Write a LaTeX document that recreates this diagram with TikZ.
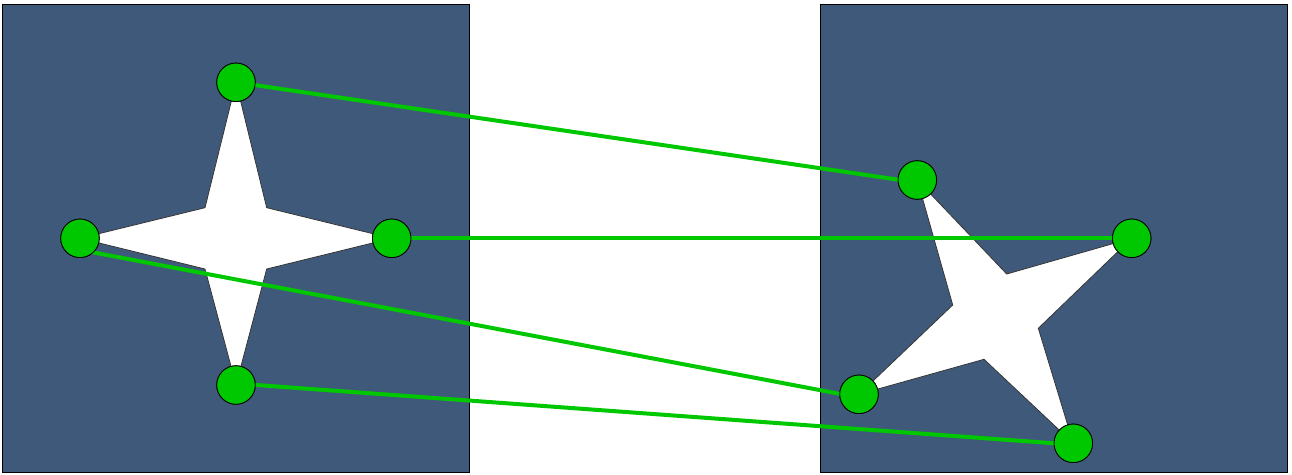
\documentclass[tikz,border=0pt]{standalone}
\definecolor{panel}{RGB}{63,89,123}
\definecolor{dot}{RGB}{0,200,0}
\definecolor{link}{RGB}{0,200,0}
\begin{document}
\begin{tikzpicture}[x=1pt,y=-1pt,
  panelbox/.style={draw=black,line width=0.8pt,fill=panel},
  starshape/.style={draw=black!80,line width=0.8pt,fill=white},
  dotnode/.style={circle,draw=black,line width=0.8pt,fill=dot,minimum size=38.5pt,inner sep=0pt},
  linkline/.style={draw=link,line width=4pt}]
\useasboundingbox (0,0) rectangle (1292,474);
\fill[white] (0,0) rectangle (1292,474);
% panels
\path[panelbox] (2.5,4.5) rectangle (469.5,472.5);
\path[panelbox] (820.5,4.5) rectangle (1287.5,472.5);
% coordinates
\coordinate (lt) at (236,82.3);
\coordinate (ll) at (80,238.3);
\coordinate (lr) at (391.7,238.3);
\coordinate (lb) at (236,385);
\coordinate (rt) at (917.3,180);
\coordinate (rr) at (1131.7,238.3);
\coordinate (rl) at (859,394.3);
\coordinate (rb) at (1073.3,443.3);
% stars
\path[starshape] (lt) -- (266.7,207.7) -- (lr) -- (266.7,269) -- (lb) -- (205,269) -- (ll) -- (205,207.7) -- cycle;
\path[starshape] (rt) -- (1006.7,274) -- (rr) -- (1038.3,328.3) -- (rb) -- (984,359.3) -- (rl) -- (952.7,305) -- cycle;
% dots (placed first, drawn again on top of the links)
\path (lt) node[dotnode] (a1) {} (ll) node[dotnode] (a2) {}
      (lr) node[dotnode] (a3) {} (lb) node[dotnode] (a4) {}
      (rt) node[dotnode] (b1) {} (rr) node[dotnode] (b2) {}
      (rl) node[dotnode] (b3) {} (rb) node[dotnode] (b4) {};
% links
\draw[linkline] (a1.center) -- ([yshift=-2.5pt]b1.center);
\draw[linkline] (a3.center) -- (b2.center);
\draw[linkline] ([yshift=-11.6pt]a2.center) -- ([yshift=-3.2pt]b3.center);
\draw[linkline] ([yshift=1.5pt]a4.center) -- ([yshift=-1.4pt]b4.center);
% dots on top
\foreach \p in {lt,ll,lr,lb,rt,rr,rl,rb} \node[dotnode] at (\p) {};
\end{tikzpicture}
\end{document}
